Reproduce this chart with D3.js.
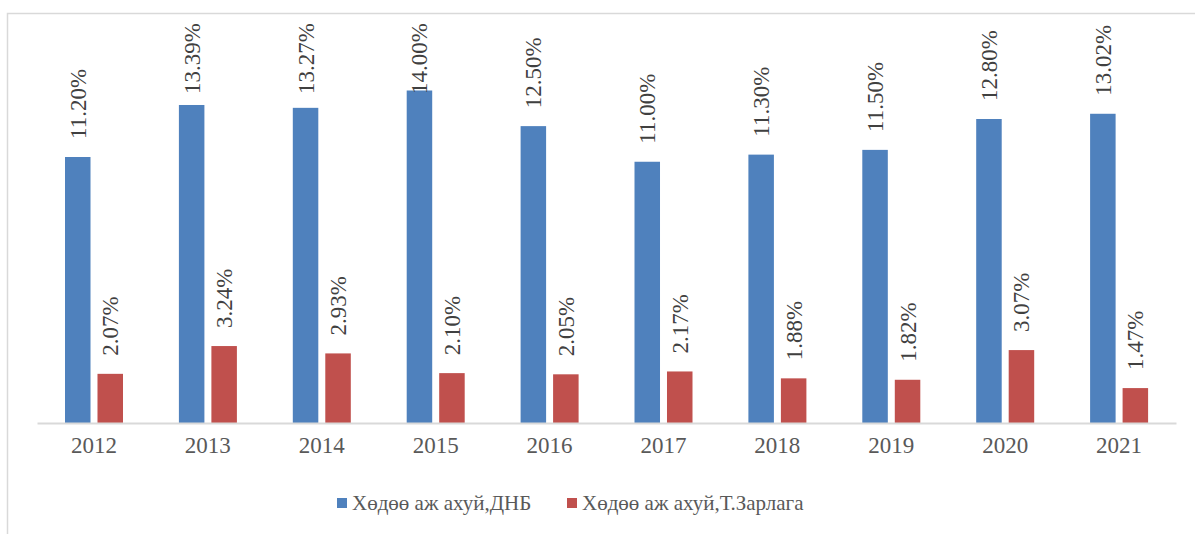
<!DOCTYPE html>
<html>
<head>
<meta charset="utf-8">
<script src="https://cdn.jsdelivr.net/npm/d3@7"></script>
<style>
  body { margin: 0; background: #fff; }
  svg { display: block; }
</style>
</head>
<body>
<div id="chart"></div>
<script>
// chart data
const years = ['2012', '2013', '2014', '2015', '2016', '2017', '2018', '2019', '2020', '2021'];
const gdpShare = [11.20, 13.39, 13.27, 14.00, 12.50, 11.00, 11.30, 11.50, 12.80, 13.02];
const spendShare = [2.07, 3.24, 2.93, 2.10, 2.05, 2.17, 1.88, 1.82, 3.07, 1.47];
const seriesNames = ['Хөдөө аж ахуй,ДНБ', 'Хөдөө аж ахуй,Т.Зарлага'];
const seriesColors = ['#4f81bd', '#c0504d'];

const width = 1195, height = 534;
const serif = "'Liberation Serif', 'Times New Roman', 'DejaVu Serif', serif";

const svg = d3.select('#chart').append('svg')
  .attr('width', width)
  .attr('height', height);

// outer chart border (only top and left edges are inside the frame)
svg.append('rect')
  .attr('x', 7.5).attr('y', 13.5)
  .attr('width', width + 10).attr('height', height + 10)
  .attr('fill', 'none')
  .attr('stroke', '#d9d9d9')
  .attr('stroke-width', 1.5);

const x0 = d3.scaleBand().domain(years).range([37, 1176]);
const x1 = d3.scaleBand().domain([0, 1]).range([28, 86]).paddingInner(0.215);
const y = d3.scaleLinear().domain([0, 16]).range([423, 43]);

const rows = years.map((yr, i) => ({ year: yr, values: [gdpShare[i], spendShare[i]] }));

const groups = svg.append('g').selectAll('g')
  .data(rows)
  .enter().append('g')
  .attr('transform', d => `translate(${x0(d.year)},0)`);

groups.selectAll('rect')
  .data(d => d.values.map((v, k) => ({ v, k })))
  .enter().append('rect')
  .attr('x', d => x1(d.k))
  .attr('y', d => y(d.v))
  .attr('width', x1.bandwidth())
  .attr('height', d => y(0) - y(d.v))
  .attr('fill', d => seriesColors[d.k]);

// data labels, rotated, kept inside the top of the plot area
groups.selectAll('text.lbl')
  .data(d => d.values.map((v, k) => ({ v, k })))
  .enter().append('text')
  .attr('class', 'lbl')
  .style('font-family', serif)
  .style('font-size', '23px')
  .attr('fill', '#404040')
  .attr('text-anchor', 'start')
  .text(d => d.v.toFixed(2) + '%')
  .each(function(d) {
    const len = this.getComputedTextLength();
    const cx = x1(d.k) + x1.bandwidth() / 2 + 8;
    const bottom = Math.max(y(d.v) - 18, 23 + len);
    d3.select(this).attr('transform', `translate(${cx},${bottom}) rotate(-90)`);
  });

// x axis
const xAxis = svg.append('g')
  .attr('transform', `translate(0,${y(0)})`)
  .call(d3.axisBottom(x0).tickSize(0).tickPadding(14));
xAxis.select('.domain').attr('stroke', '#d9d9d9').attr('stroke-width', 2);
xAxis.selectAll('text')
  .style('font-family', serif)
  .style('font-size', '23px')
  .attr('fill', '#595959');

// legend
const legendX = [337, 567];
const legend = svg.append('g').selectAll('g')
  .data(seriesNames)
  .enter().append('g')
  .attr('transform', (d, i) => `translate(${legendX[i]},498)`);
legend.append('rect')
  .attr('width', 10).attr('height', 10)
  .attr('fill', (d, i) => seriesColors[i]);
legend.append('text')
  .attr('x', 15).attr('y', 12)
  .style('font-family', serif)
  .style('font-size', '21px')
  .attr('fill', '#595959')
  .text(d => d);
</script>
</body>
</html>
